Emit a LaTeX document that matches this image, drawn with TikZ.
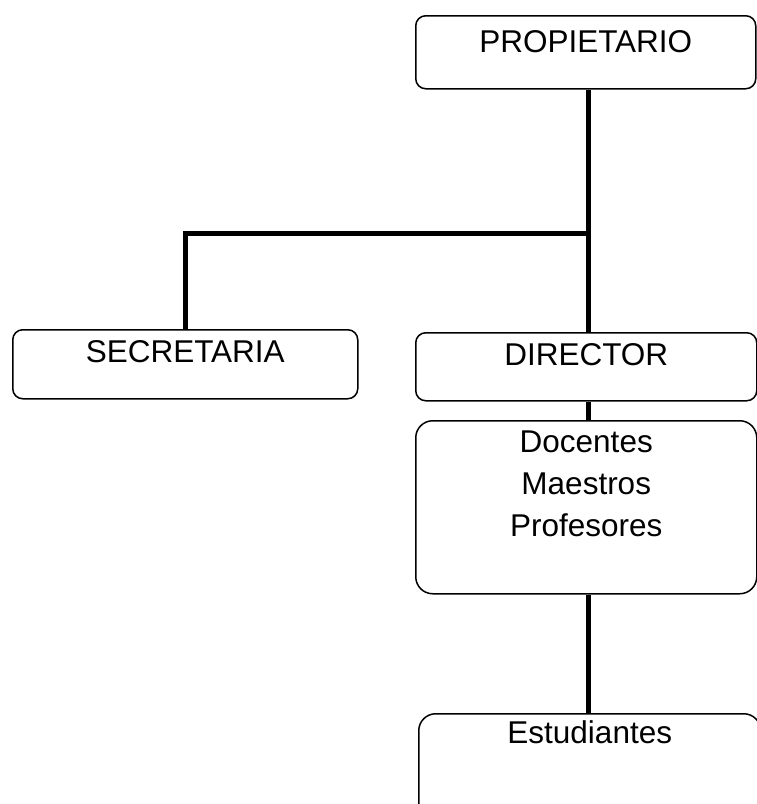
\documentclass[tikz,border=0pt]{standalone}
\usepackage{fontspec}
\setmainfont{Liberation Sans}
\tikzset{
  caja/.style={draw, line width=1.5pt, rounded corners=10pt, align=center,
               inner sep=0pt, anchor=north west,
               font=\fontsize{31.5}{42}\selectfont},
  linea/.style={line width=5pt}
}
\begin{document}
\begin{tikzpicture}[x=1pt,y=-1pt]
  \clip (0,0) rectangle (757,804);
  \node[caja, text width=340pt, text height=37pt, text depth=36pt]  (prop) at (415,15)  {PROPIETARIO};
  \node[caja, text width=345pt, text height=33pt, text depth=36pt]  (sec)  at (12,329)  {SECRETARIA};
  \node[caja, text width=341pt, text height=33pt, text depth=35pt]  (dir)  at (415,332) {DIRECTOR};
  \node[caja, rounded corners=17pt, text width=341pt,
        text height=32pt, text depth=141pt]                         (doc)  at (415,420) {Docentes\\Maestros\\Profesores};
  \node[caja, rounded corners=17pt, text width=342pt,
        text height=30pt, text depth=90pt]                          (est)  at (418,713) {Estudiantes};
  \coordinate (j) at (588,233);
  \draw[linea] (prop.south -| j) -- (dir.north -| j);
  \draw[linea] (j) -| (sec.north);
  \draw[linea] (dir.south -| j) -- (doc.north -| j);
  \draw[linea] (doc.south -| j) -- (est.north -| j);
\end{tikzpicture}
\end{document}
